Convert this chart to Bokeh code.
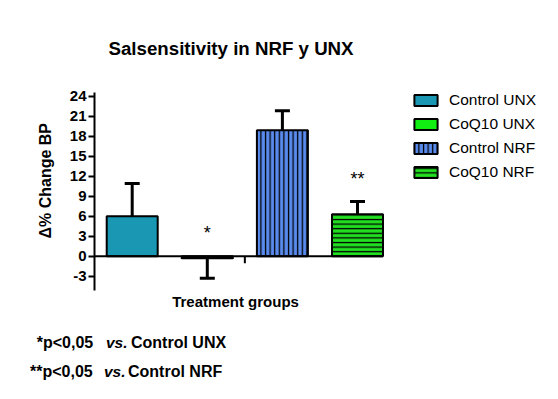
from bokeh.plotting import figure
from bokeh.layouts import column
from bokeh.models import (Range1d, FixedTicker, Whisker, TeeHead, ColumnDataSource,
                          Legend, LegendItem, Title, Div)
from bokeh.embed import file_html
from bokeh.resources import INLINE

# ---- data ----
groups = ["Control UNX", "CoQ10 UNX", "Control NRF", "CoQ10 NRF"]
values = [6.0, -0.3, 18.9, 6.3]
errors = [4.9, 3.0, 2.9, 1.9]
signif = ["", "*", "", "**"]
colors = ["#1997b3", "#11ee11", "#5a8cef", "#22e022"]
hatches = [" ", " ", "|", "-"]
y_ticks = [-3, 0, 3, 6, 9, 12, 15, 18, 21, 24]
y_tick_labels = ["-3", "0", "3", "6", "9", "12", "15", "18", "21", "24"]
title_text = "Salsensitivity in NRF y UNX"
y_label = "\u0394% Change BP"
x_label = "Treatment groups"
notes = [("*p&lt;0,05", "vs.", "Control UNX"), ("**p&lt;0,05", "vs.", "Control NRF")]

FONT = "Liberation Sans"

# ---- geometry (page px) ----
W, H1, H2 = 550, 320, 75
FL, FR, FT, FB = 94, 545, 92, 290       # frame edges on page
X1_PX, X_STEP = 131.7, 75.1            # centre of first bar, spacing
Y0_PX, Y_UNIT = 255.7, 160.0 / 24.0    # zero line, px per unit

def px2x(px):
    return 1 + (px - X1_PX) / X_STEP

def py2y(py):
    return (Y0_PX - py) / Y_UNIT

xs = list(range(1, len(groups) + 1))
bar_w = 51 / X_STEP

p = figure(width=W, height=H1, output_backend="svg", toolbar_location=None,
           x_range=Range1d(px2x(FL), px2x(FR)), y_range=Range1d(py2y(FB), py2y(FT)),
           x_axis_type=None, min_border_left=FL, min_border_right=W - FR,
           min_border_top=FT, min_border_bottom=H1 - FB)
p.outline_line_color = None
p.grid.visible = False
p.background_fill_color = "white"
p.border_fill_color = "white"

ax = p.yaxis[0]
ax.ticker = FixedTicker(ticks=y_ticks)
ax.major_label_overrides = {t: s for t, s in zip(y_ticks, y_tick_labels)}
ax.axis_line_width = 2
ax.axis_line_color = "black"
ax.major_tick_line_width = 2
ax.major_tick_out = 6
ax.major_tick_in = 0
ax.minor_tick_line_color = None
ax.major_label_standoff = 2
ax.major_label_text_font = FONT
ax.major_label_text_font_size = "15px"
ax.major_label_text_font_style = "bold"
ax.major_label_text_color = "black"

src = ColumnDataSource(dict(x=xs, top=values, color=colors, hatch=hatches, g=groups))
bars = p.vbar(x="x", top="top", bottom=0, width=bar_w, source=src,
              fill_color="color", line_color="black", line_width=2,
              hatch_pattern="hatch", hatch_color="black", hatch_scale=4.6,
              hatch_weight=1.3)

# zero line and middle tick
p.segment(x0=[px2x(FL)], y0=[0], x1=[xs[-1] + bar_w / 2], y1=[0],
          line_color="black", line_width=2)
mid = (xs[1] + xs[2]) / 2
p.segment(x0=[mid], y0=[0], x1=[mid], y1=[-7 / Y_UNIT], line_color="black", line_width=2)

# error bars (one-sided)
pos = [i for i, v in enumerate(values) if v >= 0]
neg = [i for i, v in enumerate(values) if v < 0]
up_src = ColumnDataSource(dict(x=[xs[i] for i in pos], lo=[values[i] for i in pos],
                               hi=[values[i] + errors[i] for i in pos]))
dn_src = ColumnDataSource(dict(x=[xs[i] for i in neg], lo=[values[i] - errors[i] for i in neg],
                               hi=[values[i] for i in neg]))
p.add_layout(Whisker(base="x", lower="lo", upper="hi", source=up_src, line_width=3,
                     upper_head=TeeHead(size=15, line_width=3), lower_head=None))
p.add_layout(Whisker(base="x", lower="lo", upper="hi", source=dn_src, line_width=3,
                     lower_head=TeeHead(size=15, line_width=3), upper_head=None))

# significance marks
sig_y = [max(v + e if v >= 0 else 0, 0) + 3.45 for v, e in zip(values, errors)]
p.text(x=xs, y=sig_y, text=signif, text_align="center", text_baseline="alphabetic",
       text_font={"value": FONT}, text_font_size="18px", text_color="black")

# legend
legend = Legend(items=[LegendItem(label=g, renderers=[bars], index=i) for i, g in enumerate(groups)],
                location=(317, 109), padding=0, margin=0, spacing=6,
                glyph_width=29, glyph_height=14, label_height=17, label_standoff=9,
                label_text_font=FONT, label_text_font_size="15.5px", label_text_color="black",
                border_line_color=None, background_fill_alpha=0)
p.add_layout(legend)

# titles (side panels, not clipped)
p.title = Title(text=title_text, align="left", offset=108 - FL, standoff=67,
                text_font=FONT, text_font_size="18.7px", text_font_style="bold",
                text_color="black")
p.add_layout(Title(text=y_label, align="left", offset=FB - 238, standoff=25,
                   text_font=FONT, text_font_size="16px", text_font_style="bold",
                   text_color="black"), "left")
p.add_layout(Title(text=x_label, align="left", offset=171.7 - FL, standoff=0,
                   text_font=FONT, text_font_size="15px", text_font_style="bold",
                   text_color="black"), "below")

# footnotes
note_rows = [(36.7, 106, 131, 348), (30, 104, 128, 377)]
spans = []
for (a, b, c), (xa, xb, xc, yb) in zip(notes, note_rows):
    top = yb - H1 - 13.5
    for t, xp, it in ((a, xa, False), (b, xb, True), (c, xc, False)):
        style = "font-style:italic;font-size:15.5px;" if it else ""
        spans.append(f'<span style="position:absolute;left:{xp}px;top:{top + (0.4 if it else 0)}px;'
                     f'line-height:16px;white-space:nowrap;{style}">{t}</span>')
html = ('<div style="position:relative;width:%dpx;height:%dpx;font-family:\'%s\';'
        'font-weight:bold;font-size:16px;color:black;">%s</div>' % (W, H2, FONT, "".join(spans)))
div = Div(text=html, width=W, height=H2, margin=0)

layout = column(p, div, spacing=0)
open("out.html", "w").write(file_html(layout, INLINE))
